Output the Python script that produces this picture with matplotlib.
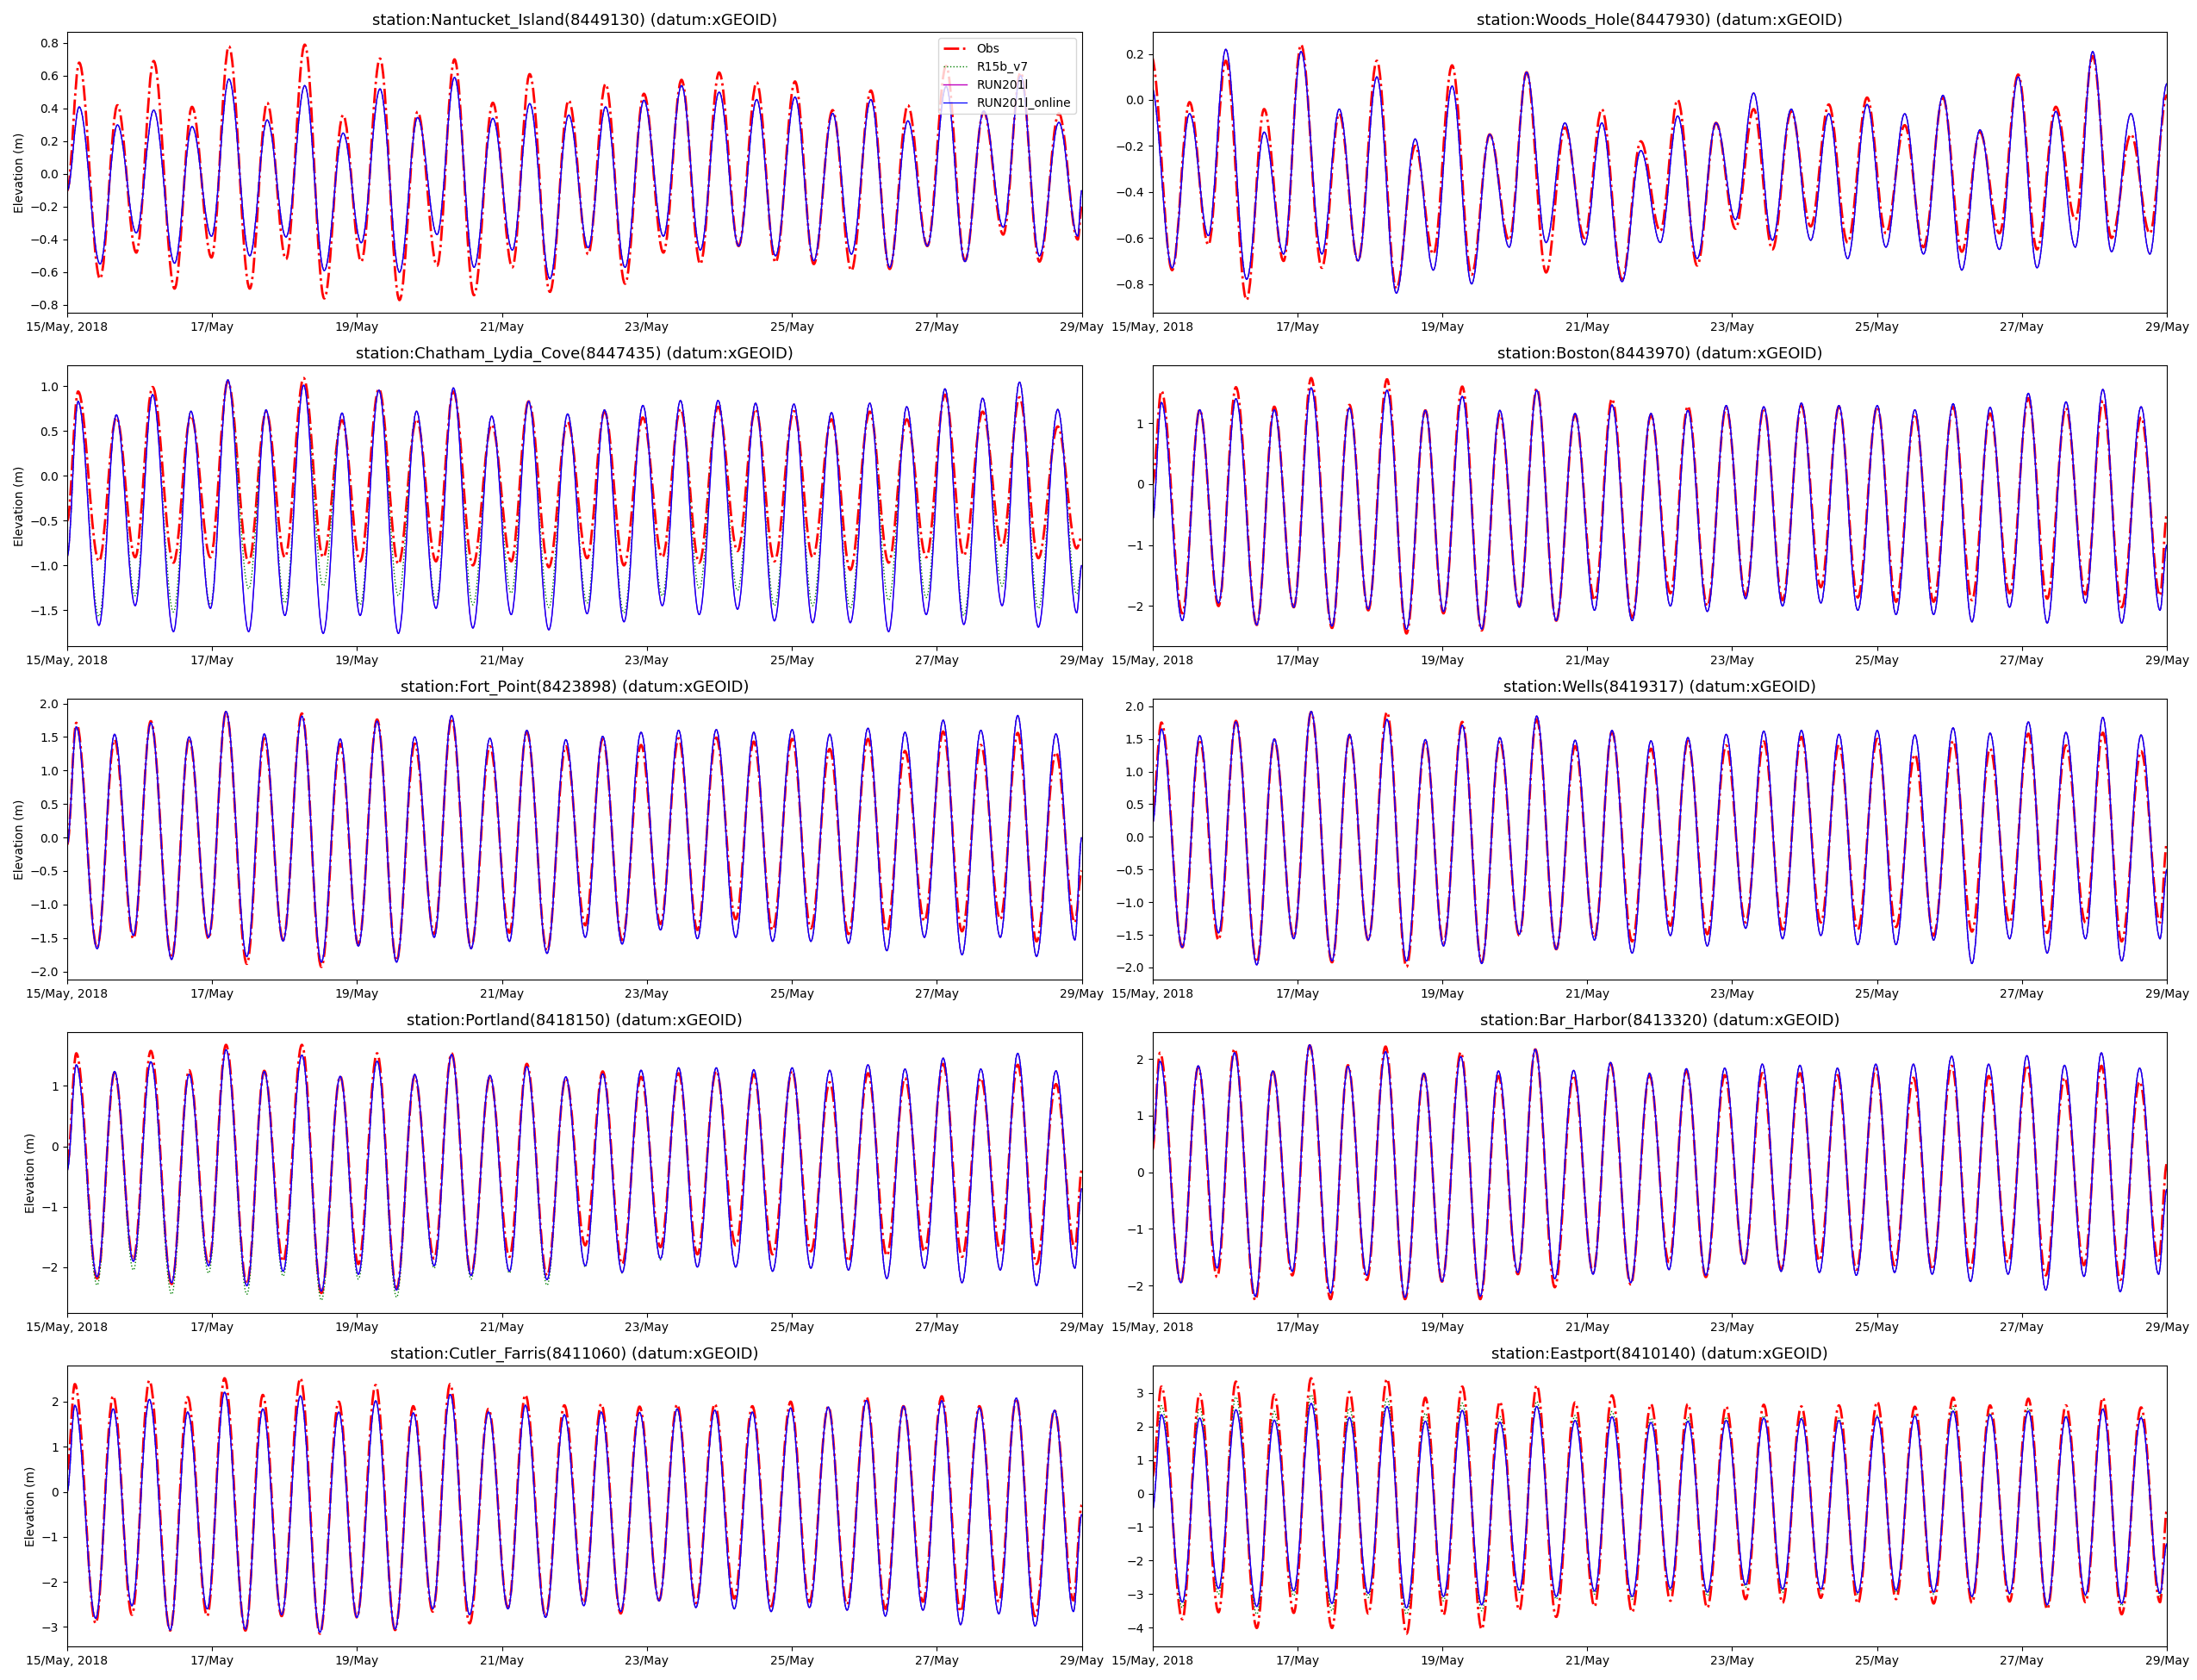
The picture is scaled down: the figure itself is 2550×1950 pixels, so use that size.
import matplotlib
matplotlib.use("Agg")
import matplotlib.pyplot as plt
from matplotlib.path import Path
from matplotlib.patches import PathPatch
from matplotlib.lines import Line2D

# times of high / low water in days after 15/May/2018 00:00 (read at Boston)
high_t = [0.125, 0.653, 1.153, 1.682, 2.191, 2.719, 3.238, 3.767, 4.276, 4.795, 5.304, 5.833, 6.342, 6.880,
          7.389, 7.918, 8.437, 8.956, 9.474, 10.003, 10.522, 11.050, 11.560, 12.088, 12.607, 13.116, 13.644]
low_t = [0.413, 0.913, 1.441, 1.951, 2.479, 2.979, 3.507, 4.017, 4.545, 5.064, 5.573, 6.102, 6.621, 7.149,
         7.658, 8.187, 8.696, 9.225, 9.734, 10.262, 10.781, 11.310, 11.829, 12.348, 12.876, 13.376, 13.905]
t_end = 14.0

tick_days = [0, 2, 4, 6, 8, 10, 12, 14]
tick_labels = ["15/May, 2018", "17/May", "19/May", "21/May", "23/May", "25/May", "27/May", "29/May"]

names = ["Nantucket_Island", "Woods_Hole", "Chatham_Lydia_Cove", "Boston", "Fort_Point",
         "Wells", "Portland", "Bar_Harbor", "Cutler_Farris", "Eastport"]
ids = ["8449130", "8447930", "8447435", "8443970", "8423898",
       "8419317", "8418150", "8413320", "8411060", "8410140"]
# tidal phase of each station relative to Boston, days
lag = [0.04, -0.14, 0.025, 0.0, 0.0, 0.0, 0.0, -0.02, -0.02, 0.0]
# values at the left / right edge: (obs, model)
start_val = [(-0.1, -0.1), (None, None), (-0.5, -0.9), (0.0, -0.6), (-0.1, -0.1),
             (0.4, 0.2), (-0.3, -0.4), (0.4, 0.5), (0.5, 0.0), (0.5, -0.5)]
end_val = [(-0.2, -0.1), (0.02, 0.07), (-0.68, -1.0), (-0.5, -1.0), (-0.5, 0.0),
           (-0.1, -0.5), (-0.4, -0.7), (0.15, -0.3), (-0.3, -0.5), (-0.5, -1.5)]

# Nantucket_Island
nan_obs_hi = [0.68, 0.42, 0.69, 0.41, 0.78, 0.435, 0.79, 0.36, 0.705, 0.38, 0.70, 0.435, 0.61, 0.45, 0.55, 0.49,
              0.575, 0.62, 0.56, 0.565, 0.39, 0.51, 0.42, 0.66, 0.38, 0.62, 0.37]
nan_obs_lo = [-0.64, -0.48, -0.70, -0.51, -0.70, -0.52, -0.76, -0.535, -0.77, -0.56, -0.74, -0.57, -0.72, -0.49,
              -0.67, -0.48, -0.55, -0.44, -0.54, -0.55, -0.59, -0.58, -0.44, -0.53, -0.37, -0.535, -0.40]
nan_mod_hi = [0.41, 0.30, 0.39, 0.29, 0.58, 0.33, 0.54, 0.25, 0.52, 0.345, 0.59, 0.34, 0.43, 0.36, 0.41, 0.45,
              0.54, 0.50, 0.455, 0.47, 0.37, 0.455, 0.325, 0.535, 0.385, 0.60, 0.315]
nan_mod_lo = [-0.55, -0.36, -0.545, -0.38, -0.50, -0.385, -0.59, -0.42, -0.60, -0.37, -0.57, -0.465, -0.64, -0.45,
              -0.57, -0.38, -0.465, -0.44, -0.50, -0.53, -0.49, -0.57, -0.44, -0.535, -0.325, -0.50, -0.38]

# Woods_Hole
woo_obs_hi = [0.19, -0.01, 0.17, -0.04, 0.24, -0.06, 0.17, -0.20, 0.15, -0.15, 0.12, -0.12, -0.04, -0.18, 0.00,
              -0.10, -0.04, -0.05, -0.02, 0.01, -0.11, 0.01, -0.14, 0.11, -0.03, 0.19, -0.15]
woo_obs_lo = [-0.74, -0.63, -0.87, -0.70, -0.73, -0.70, -0.82, -0.67, -0.76, -0.61, -0.75, -0.60, -0.78, -0.57,
              -0.72, -0.56, -0.65, -0.55, -0.62, -0.58, -0.64, -0.66, -0.58, -0.65, -0.52, -0.60, -0.58]
woo_mod_hi = [0.06, -0.06, 0.22, -0.14, 0.21, -0.04, 0.10, -0.17, 0.06, -0.15, 0.12, -0.10, -0.10, -0.22, -0.07,
              -0.10, 0.03, -0.04, -0.06, -0.02, -0.06, 0.02, -0.13, 0.10, -0.05, 0.21, -0.06]
woo_mod_lo = [-0.73, -0.59, -0.78, -0.67, -0.67, -0.70, -0.84, -0.74, -0.80, -0.64, -0.62, -0.63, -0.79, -0.62,
              -0.69, -0.52, -0.61, -0.61, -0.69, -0.64, -0.67, -0.74, -0.65, -0.73, -0.64, -0.66, -0.67]

# Chatham_Lydia_Cove
cha_obs_hi = [0.94, 0.65, 0.99, 0.67, 1.05, 0.715, 1.09, 0.62, 0.97, 0.63, 0.94, 0.57, 0.83, 0.60, 0.715, 0.65,
              0.745, 0.77, 0.745, 0.72, 0.63, 0.715, 0.63, 0.905, 0.715, 0.875, 0.55]
cha_obs_lo = [-0.955, -0.91, -0.97, -0.91, -0.97, -0.91, -0.91, -0.955, -0.985, -0.955, -1.0, -0.955, -1.02, -0.92,
              -1.0, -0.91, -0.97, -0.84, -0.955, -0.91, -1.05, -0.97, -0.91, -0.89, -0.79, -0.92, -0.81]
cha_mod_hi = [0.83, 0.68, 0.905, 0.72, 1.07, 0.735, 1.01, 0.70, 0.955, 0.72, 0.98, 0.665, 0.83, 0.69, 0.735, 0.785,
              0.84, 0.84, 0.81, 0.80, 0.705, 0.81, 0.77, 0.97, 0.865, 1.045, 0.74]
cha_mod_lo = [-1.67, -1.45, -1.74, -1.48, -1.74, -1.56, -1.76, -1.56, -1.76, -1.48, -1.70, -1.55, -1.72, -1.54,
              -1.63, -1.45, -1.55, -1.49, -1.62, -1.64, -1.64, -1.74, -1.55, -1.66, -1.45, -1.69, -1.53]
cha_r15_lo = [-1.57, -1.34, -1.52, -1.44, -1.26, -1.42, -1.23, -1.44, -1.34, -1.40, -1.44, -1.31, -1.47, -1.42,
              -1.53, -1.34, -1.26, -1.28, -1.45, -1.45, -1.48, -1.39, -1.36, -1.56, -1.23, -1.48, -1.32]

# Boston
bos_obs_hi = [1.53, 1.22, 1.59, 1.27, 1.74, 1.30, 1.72, 1.21, 1.60, 1.15, 1.57, 1.14, 1.40, 1.13, 1.28, 1.25,
              1.25, 1.29, 1.27, 1.27, 1.15, 1.27, 1.16, 1.41, 1.25, 1.365, 1.095]
bos_obs_lo = [-2.12, -2.0, -2.31, -2.02, -2.36, -2.07, -2.45, -2.12, -2.40, -2.0, -2.24, -1.905, -2.19, -1.79,
              -2.0, -1.83, -1.905, -1.69, -1.86, -1.93, -1.93, -1.905, -1.79, -1.88, -1.81, -2.02, -1.83]
bos_mod_hi = [1.34, 1.22, 1.40, 1.22, 1.58, 1.25, 1.54, 1.21, 1.44, 1.21, 1.54, 1.16, 1.30, 1.16, 1.21, 1.29,
              1.27, 1.33, 1.29, 1.29, 1.22, 1.32, 1.26, 1.49, 1.35, 1.555, 1.27]
bos_mod_lo = [-2.24, -1.95, -2.31, -2.02, -2.33, -2.05, -2.38, -2.09, -2.38, -2.02, -2.24, -2.07, -2.24, -2.0,
              -2.09, -1.88, -2.0, -1.95, -2.07, -2.14, -2.14, -2.26, -2.02, -2.28, -1.95, -2.28, -2.07]

# Fort_Point
for_obs_hi = [1.71, 1.46, 1.735, 1.48, 1.87, 1.48, 1.85, 1.395, 1.76, 1.40, 1.78, 1.36, 1.58, 1.36, 1.47, 1.38,
              1.48, 1.49, 1.43, 1.47, 1.32, 1.47, 1.29, 1.58, 1.38, 1.56, 1.27]
for_obs_lo = [-1.64, -1.51, -1.80, -1.51, -1.885, -1.53, -1.93, -1.60, -1.84, -1.44, -1.64, -1.42, -1.69, -1.31,
              -1.53, -1.29, -1.38, -1.22, -1.38, -1.355, -1.44, -1.40, -1.245, -1.40, -1.22, -1.55, -1.27]
for_mod_hi = [1.65, 1.54, 1.71, 1.50, 1.88, 1.545, 1.81, 1.47, 1.735, 1.50, 1.82, 1.48, 1.60, 1.46, 1.51, 1.57,
              1.60, 1.61, 1.57, 1.61, 1.54, 1.63, 1.57, 1.75, 1.60, 1.82, 1.545]
for_mod_lo = [-1.66, -1.46, -1.82, -1.49, -1.775, -1.545, -1.86, -1.62, -1.86, -1.49, -1.66, -1.55, -1.73, -1.49,
              -1.59, -1.38, -1.51, -1.49, -1.55, -1.55, -1.58, -1.69, -1.49, -1.75, -1.49, -1.775, -1.53]

# Wells
wel_obs_hi = [1.75, 1.49, 1.775, 1.49, 1.91, 1.55, 1.91, 1.47, 1.76, 1.47, 1.80, 1.39, 1.61, 1.35, 1.47, 1.40,
              1.46, 1.53, 1.41, 1.50, 1.26, 1.47, 1.35, 1.58, 1.40, 1.595, 1.31]
wel_obs_lo = [-1.69, -1.58, -1.92, -1.54, -1.92, -1.58, -1.99, -1.63, -1.92, -1.51, -1.72, -1.54, -1.60, -1.36,
              -1.49, -1.31, -1.42, -1.31, -1.42, -1.38, -1.51, -1.45, -1.31, -1.47, -1.31, -1.60, -1.31]
wel_mod_hi = [1.65, 1.55, 1.76, 1.50, 1.92, 1.57, 1.80, 1.49, 1.71, 1.52, 1.85, 1.48, 1.63, 1.47, 1.52, 1.57,
              1.62, 1.63, 1.57, 1.63, 1.56, 1.67, 1.59, 1.76, 1.60, 1.83, 1.56]
wel_mod_lo = [-1.69, -1.47, -1.96, -1.56, -1.90, -1.58, -1.90, -1.67, -1.94, -1.49, -1.72, -1.58, -1.78, -1.51,
              -1.67, -1.40, -1.56, -1.51, -1.65, -1.65, -1.58, -1.94, -1.56, -1.78, -1.56, -1.90, -1.56]

# Portland
por_obs_hi = [1.54, 1.22, 1.58, 1.26, 1.68, 1.25, 1.68, 1.16, 1.54, 1.16, 1.54, 1.15, 1.365, 1.13, 1.24, 1.15,
              1.21, 1.25, 1.19, 1.25, 1.06, 1.21, 1.13, 1.365, 1.13, 1.35, 1.03]
por_obs_lo = [-2.19, -1.88, -2.28, -1.95, -2.28, -1.905, -2.43, -1.95, -2.36, -1.86, -2.12, -1.83, -2.14, -1.64,
              -1.95, -1.67, -1.79, -1.64, -1.79, -1.74, -1.905, -1.81, -1.74, -1.83, -1.72, -1.95, -1.69]
por_mod_hi = [1.35, 1.24, 1.40, 1.19, 1.60, 1.24, 1.51, 1.16, 1.41, 1.19, 1.52, 1.175, 1.32, 1.15, 1.20, 1.26,
              1.30, 1.30, 1.27, 1.30, 1.26, 1.35, 1.28, 1.46, 1.28, 1.54, 1.25]
por_mod_lo = [-2.16, -1.905, -2.26, -1.98, -2.31, -2.07, -2.40, -2.12, -2.38, -1.98, -2.14, -2.07, -2.21, -1.98,
              -2.09, -1.86, -2.0, -2.0, -2.07, -2.02, -2.05, -2.19, -2.02, -2.26, -2.05, -2.31, -2.02]
por_r15_lo = [-2.30, -2.05, -2.45, -2.10, -2.45, -2.15, -2.55, -2.20, -2.50, -2.02, -2.20, -2.10, -2.30, -2.00,
              -2.10, -1.88, -2.0, -2.0, -2.07, -2.02, -2.05, -2.19, -2.02, -2.26, -2.05, -2.31, -2.02]

# Bar_Harbor
bar_obs_hi = [2.11, 1.855, 2.18, 1.79, 2.24, 1.89, 2.22, 1.74, 2.12, 1.70, 2.17, 1.715, 1.92, 1.715, 1.80, 1.715,
              1.75, 1.75, 1.715, 1.83, 1.67, 1.88, 1.70, 1.89, 1.67, 1.88, 1.60]
bar_obs_lo = [-1.95, -1.85, -2.26, -1.82, -2.24, -1.90, -2.24, -1.93, -2.24, -1.80, -2.03, -1.77, -1.98, -1.59,
              -1.85, -1.62, -1.72, -1.56, -1.72, -1.64, -1.72, -1.69, -1.59, -1.82, -1.64, -1.90, -1.56]
bar_mod_hi = [1.96, 1.88, 2.11, 1.79, 2.25, 1.87, 2.13, 1.75, 2.04, 1.79, 2.17, 1.80, 1.94, 1.75, 1.83, 1.84,
              1.91, 1.89, 1.84, 1.91, 1.91, 2.05, 1.91, 2.06, 1.89, 2.11, 1.84]
bar_mod_lo = [-1.95, -1.69, -2.19, -1.75, -2.13, -1.82, -2.21, -1.93, -2.19, -1.77, -1.88, -1.80, -1.95, -1.72,
              -1.82, -1.62, -1.75, -1.77, -1.82, -1.77, -1.80, -1.93, -1.80, -2.08, -1.84, -2.11, -1.80]

# Cutler_Farris
cut_obs_hi = [2.39, 2.13, 2.47, 2.10, 2.52, 2.15, 2.52, 2.0, 2.37, 1.90, 2.39, 1.84, 2.15, 1.92, 1.95, 1.89,
              1.94, 1.95, 1.90, 2.0, 1.89, 2.10, 1.90, 2.12, 1.90, 2.07, 1.81]
cut_obs_lo = [-2.92, -2.73, -3.08, -2.76, -3.08, -2.76, -3.15, -2.79, -3.07, -2.66, -2.92, -2.57, -2.76, -2.47,
              -2.70, -2.41, -2.47, -2.37, -2.54, -2.44, -2.50, -2.60, -2.44, -2.66, -2.44, -2.76, -2.41]
cut_mod_hi = [1.92, 1.84, 2.05, 1.77, 2.21, 1.84, 2.13, 1.77, 2.02, 1.75, 2.16, 1.77, 1.92, 1.71, 1.77, 1.76,
              1.84, 1.81, 1.77, 1.86, 1.88, 2.03, 1.90, 2.02, 1.86, 2.08, 1.81]
cut_mod_lo = [-2.81, -2.53, -3.07, -2.60, -3.05, -2.73, -3.12, -2.79, -3.05, -2.60, -2.73, -2.60, -2.79, -2.53,
              -2.66, -2.42, -2.57, -2.60, -2.66, -2.57, -2.63, -2.76, -2.63, -2.95, -2.71, -2.98, -2.66]

# Eastport
eas_obs_hi = [3.19, 2.97, 3.34, 2.95, 3.44, 3.03, 3.42, 2.86, 3.19, 2.74, 3.23, 2.72, 2.93, 2.67, 2.67, 2.60,
              2.65, 2.60, 2.63, 2.74, 2.59, 2.86, 2.63, 2.83, 2.63, 2.86, 2.57]
eas_obs_lo = [-3.75, -3.54, -4.01, -3.56, -4.01, -3.58, -4.18, -3.62, -4.05, -3.48, -3.68, -3.37, -3.54, -3.20,
              -3.41, -3.15, -3.26, -3.11, -3.28, -3.15, -3.28, -3.26, -3.22, -3.45, -3.24, -3.60, -3.24]
eas_mod_hi = [2.35, 2.25, 2.50, 2.19, 2.69, 2.27, 2.60, 2.16, 2.48, 2.13, 2.60, 2.18, 2.29, 2.12, 2.16, 2.18,
              2.25, 2.23, 2.18, 2.29, 2.31, 2.46, 2.35, 2.46, 2.29, 2.52, 2.26]
eas_mod_lo = [-3.24, -2.83, -3.37, -2.90, -3.28, -2.98, -3.41, -3.07, -3.32, -2.88, -3.07, -2.91, -3.07, -2.83,
              -2.94, -2.72, -2.85, -2.85, -2.96, -2.88, -2.94, -3.07, -2.98, -3.32, -3.02, -3.28, -2.98]
eas_r15_hi = [2.62, 2.55, 2.88, 2.45, 2.95, 2.55, 2.82, 2.40, 2.70, 2.30, 2.75, 2.33, 2.45, 2.25, 2.27, 2.28,
              2.32, 2.28, 2.25, 2.33, 2.35, 2.60, 2.40, 2.55, 2.32, 2.55, 2.30]
eas_r15_lo = [-3.40, -3.00, -3.60, -3.05, -3.50, -3.10, -3.60, -3.20, -3.50, -2.95, -3.15, -3.00, -3.15, -2.90,
              -3.05, -2.80, -2.95, -2.90, -3.00, -2.95, -3.00, -3.10, -3.00, -3.35, -3.05, -3.35, -3.05]

obs_hi = [nan_obs_hi, woo_obs_hi, cha_obs_hi, bos_obs_hi, for_obs_hi, wel_obs_hi, por_obs_hi, bar_obs_hi, cut_obs_hi, eas_obs_hi]
obs_lo = [nan_obs_lo, woo_obs_lo, cha_obs_lo, bos_obs_lo, for_obs_lo, wel_obs_lo, por_obs_lo, bar_obs_lo, cut_obs_lo, eas_obs_lo]
mod_hi = [nan_mod_hi, woo_mod_hi, cha_mod_hi, bos_mod_hi, for_mod_hi, wel_mod_hi, por_mod_hi, bar_mod_hi, cut_mod_hi, eas_mod_hi]
mod_lo = [nan_mod_lo, woo_mod_lo, cha_mod_lo, bos_mod_lo, for_mod_lo, wel_mod_lo, por_mod_lo, bar_mod_lo, cut_mod_lo, eas_mod_lo]
# R15b_v7 where it differs visibly from RUN201l_online (None = same)
r15_hi = [None, None, None, None, None, None, None, None, None, eas_r15_hi]
r15_lo = [None, None, cha_r15_lo, None, None, None, por_r15_lo, None, None, eas_r15_lo]

K = 0.364  # bezier handle, gives a near-sinusoidal shape between extremes


def tide_path(dt, hi, lo, y0, y1):
    pts = sorted([(t + dt, v) for t, v in zip(high_t, hi)] + [(t + dt, v) for t, v in zip(low_t, lo)])
    if y0 is not None and pts[0][0] > 0:
        pts.insert(0, (0.0, y0))
    pts.append((t_end, y1))
    verts = [pts[0]]
    codes = [Path.MOVETO]
    for (ta, ya), (tb, yb) in zip(pts[:-1], pts[1:]):
        h = (tb - ta) * K
        verts += [(ta + h, ya), (tb - h, yb), (tb, yb)]
        codes += [Path.CURVE4] * 3
    return Path(verts, codes)


styles = {
    "Obs": dict(color="r", linestyle="-.", linewidth=2.0),
    "R15b_v7": dict(color="g", linestyle=":", linewidth=1.0),
    "RUN201l": dict(color="m", linestyle="-", linewidth=1.0),
    "RUN201l_online": dict(color="b", linestyle="-", linewidth=0.9),
}

fig, axes = plt.subplots(5, 2, figsize=(25.5, 19.5), dpi=100)
fig.subplots_adjust(left=0.0306, right=0.9863, bottom=0.020, top=0.981, wspace=0.0696, hspace=0.187)

for i, ax in enumerate(axes.flat):
    dt = lag[i]
    series = [
        ("Obs", obs_hi[i], obs_lo[i], start_val[i][0], end_val[i][0]),
        ("R15b_v7", r15_hi[i] or mod_hi[i], r15_lo[i] or mod_lo[i], start_val[i][1], end_val[i][1]),
        ("RUN201l", mod_hi[i], mod_lo[i], start_val[i][1], end_val[i][1]),
        ("RUN201l_online", mod_hi[i], mod_lo[i], start_val[i][1], end_val[i][1]),
    ]
    for label, hi, lo, y0, y1 in series:
        p = tide_path(dt, hi, lo, y0, y1)
        ax.add_patch(PathPatch(p, facecolor="none", edgecolor=styles[label]["color"],
                               linestyle=styles[label]["linestyle"], linewidth=styles[label]["linewidth"]))
    ax.autoscale_view()
    ax.set_xlim(0, t_end)
    ax.set_xticks(tick_days)
    ax.set_xticklabels(tick_labels)
    ax.set_title("station:%s(%s) (datum:xGEOID)" % (names[i], ids[i]), fontsize=13)
    if i % 2 == 0:
        ax.set_ylabel("Elevation (m)")
    if i == 0:
        handles = [Line2D([], [], **styles[k]) for k in styles]
        ax.legend(handles, list(styles.keys()), loc="upper right", fontsize=10)

fig.savefig("out.png")
